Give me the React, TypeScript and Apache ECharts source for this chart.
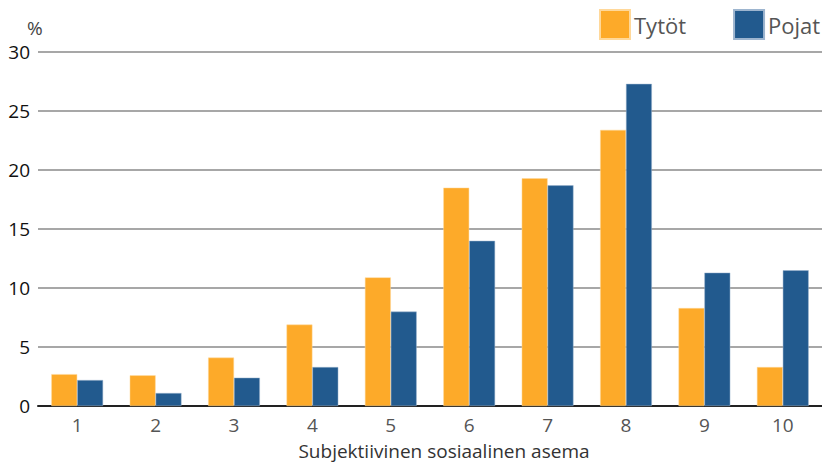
import React, { useEffect, useRef } from "react";
import * as echarts from "echarts";

const categories = ["1", "2", "3", "4", "5", "6", "7", "8", "9", "10"];
const tytot = [2.7, 2.6, 4.1, 6.9, 10.9, 18.5, 19.3, 23.4, 8.3, 3.3];
const pojat = [2.2, 1.1, 2.4, 3.3, 8.0, 14.0, 18.7, 27.3, 11.3, 11.5];
const seriesNames = ["Tytöt", "Pojat"];
const xAxisName = "Subjektiivinen sosiaalinen asema";
const yUnit = "%";

const FONT = "'Open Sans', 'Noto Sans', sans-serif";

export default function App() {
  const ref = useRef<HTMLDivElement>(null);
  useEffect(() => {
    const chart = echarts.init(ref.current!, null, { renderer: "svg" });
    chart.setOption({
      animation: false,
      textStyle: { fontFamily: FONT },
      legend: {
        left: 599,
        top: 9,
        padding: 0,
        icon: "rect",
        itemWidth: 30,
        itemHeight: 29,
        itemGap: 47,
        textStyle: { fontSize: 22, color: "#555", fontFamily: FONT, padding: [0, 0, 0, -1] },
        data: seriesNames,
      },
      graphic: [
        {
          type: "text",
          left: 27,
          top: 18,
          style: { text: yUnit, fontSize: 19, fill: "#444", fontFamily: FONT },
        },
      ],
      grid: { left: 38, right: -8, top: 52, height: 354, containLabel: false },
      xAxis: {
        type: "category",
        data: categories,
        name: xAxisName,
        nameLocation: "middle",
        nameGap: 35,
        nameTextStyle: { fontSize: 19, color: "#333", fontFamily: FONT, padding: [0, 0, 0, 28] },
        axisLine: { lineStyle: { color: "#222", width: 2 } },
        axisTick: { show: false },
        axisLabel: { fontSize: 19, color: "#555", margin: 9, fontFamily: FONT },
      },
      yAxis: {
        type: "value",
        min: 0,
        max: 30,
        interval: 5,
        axisLine: { show: false },
        axisTick: { show: false },
        axisLabel: { fontSize: 19, color: "#111", margin: 8, fontFamily: FONT },
        splitLine: { lineStyle: { color: "#8a8a8a", width: 1.5 } },
      },
      series: [
        {
          name: seriesNames[0],
          type: "bar",
          data: tytot,
          barGap: "0%",
          barCategoryGap: "34%",
          itemStyle: { color: "#FDAA29", borderColor: "#FFD89A", borderWidth: 0.5 },
        },
        {
          name: seriesNames[1],
          type: "bar",
          data: pojat,
          barGap: "0%",
          barCategoryGap: "34%",
          itemStyle: { color: "#225A8E", borderColor: "#9DB5CF", borderWidth: 0.5 },
        },
      ],
    });
    return () => chart.dispose();
  }, []);
  return (
    <div
      ref={ref}
      style={{ position: "fixed", left: 0, top: 0, width: 822, height: 467, background: "#fff" }}
    />
  );
}
